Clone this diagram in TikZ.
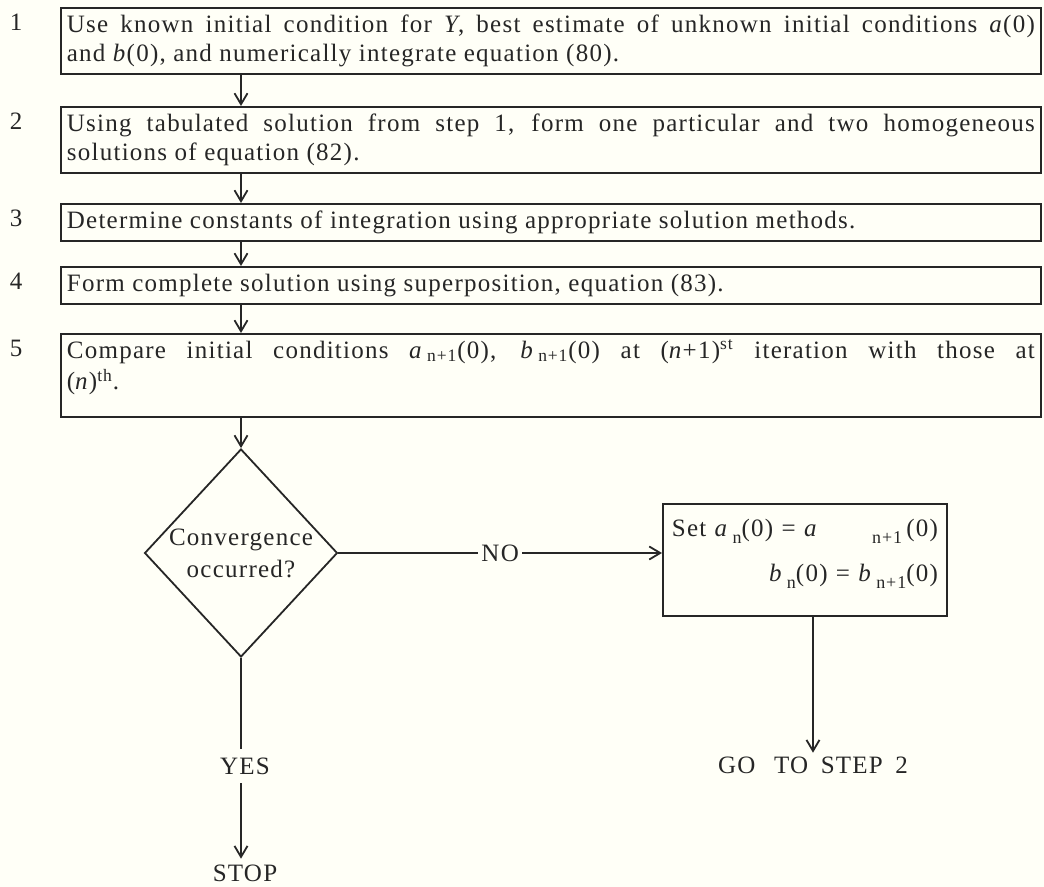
\documentclass[tikz,border=0pt]{standalone}
\usepackage{fontspec}
\setmainfont{Liberation Serif}[LetterSpace=5.0]
\usetikzlibrary{shapes.geometric,arrows.meta}

\definecolor{paper}{RGB}{255,255,247}
\definecolor{ink}{RGB}{38,38,38}

% tiefgestellter Index
\newcommand{\subidx}[1]{\raisebox{-3.5pt}{\fontsize{9}{10}\selectfont #1}}

\tikzset{
  every node/.style={font=\fontsize{12.5}{14.5}\selectfont, text=ink},
  stepbox/.style={draw=ink, line width=0.9pt, anchor=north west, text width=484pt,
    align=justify, inner xsep=3pt, inner ysep=2pt,
    execute at begin node=\strut, execute at end node=\strut},
  num/.style={anchor=base},
  decision/.style={diamond, draw=ink, line width=0.9pt, align=center, inner sep=0pt,
    minimum width=94pt, minimum height=104pt},
  setbox/.style={draw=ink, line width=0.9pt, anchor=north west, text width=133pt,
    align=right, inner xsep=4.5pt, inner ysep=6pt, execute at begin node=\strut},
  lbl/.style={inner sep=2.5pt}
}

\begin{document}
\begin{tikzpicture}[x=0.5pt, y=-0.5pt, line width=0.9pt, color=ink,
    >={Straight Barb[length=5.5pt,width=6.5pt]}]
  % Hintergrund
  \fill[paper] (0,0) rectangle (1044,887);
  \useasboundingbox (0,0) rectangle (1044,887);

  % Schritte 1--5
  \node[num] (n1) at (16,31) {1};
  \node[stepbox] (s1) at (60,7) {Use known initial condition for \textit{Y}, best estimate of unknown initial conditions \textit{a}(0)\linebreak and \textit{b}(0), and numerically integrate equation (80).};
  \node[num] (n2) at (16,130) {2};
  \node[stepbox] (s2) at (60,106) {Using tabulated solution from step 1, form one particular and two homogeneous\linebreak solutions of equation (82).};
  \node[num] (n3) at (16,227) {3};
  \node[stepbox] (s3) at (60,203) {Determine constants of integration using appropriate solution methods.};
  \node[num] (n4) at (16,290) {4};
  \node[stepbox] (s4) at (60,266) {Form complete solution using superposition, equation (83).};
  \node[num] (n5) at (16,357) {5};
  \node[stepbox] (s5) at (60,333) {Compare initial conditions \textit{a}\,\textsubscript{n+1}(0), \textit{b}\,\textsubscript{n+1}(0) at (\textit{n}+1)\textsuperscript{st} iteration with those at\linebreak (\textit{n})\textsuperscript{th}.\rule[-11.5pt]{0pt}{1pt}};

  % Abfrage
  \node[decision] (conv) at (241,553) {Convergence\\[1.5pt]occurred?};
  \node[setbox] (reset) at (662,503) {Set \textit{a}\,\subidx{n}(0) = \textit{a}\hfill\subidx{n+1}\,(0)\\[8pt]\textit{b}\,\subidx{n}(0) = \textit{b}\,\subidx{n+1}(0)\rule[-11.5pt]{0pt}{1pt}};
  \node[lbl, inner sep=1.5pt] (goto) at (813,765) {GO\hspace{0.75em}TO\enspace STEP\enspace 2};
  \node[lbl, inner ysep=4pt] (yes) at (245,766) {YES};
  \node[lbl] (stop) at (245,873) {STOP};

  % Pfeile
  \draw[->] (s1.south -| conv) -- (s2.north -| conv);
  \draw[->] (s2.south -| conv) -- (s3.north -| conv);
  \draw[->] (s3.south -| conv) -- (s4.north -| conv);
  \draw[->] (s4.south -| conv) -- (s5.north -| conv);
  \draw[->] (s5.south -| conv) -- (conv.north);
  \draw[->] (conv.east) -- node[fill=paper, inner sep=1.5pt] (no) {NO} (conv.east -| reset.west);
  \draw[->] (reset.south -| goto) -- (goto.north);
  \draw (conv.south) -- (conv.south |- yes.north);
  \draw[->] (conv.south |- yes.south) -- (conv.south |- stop.north);
\end{tikzpicture}
\end{document}
